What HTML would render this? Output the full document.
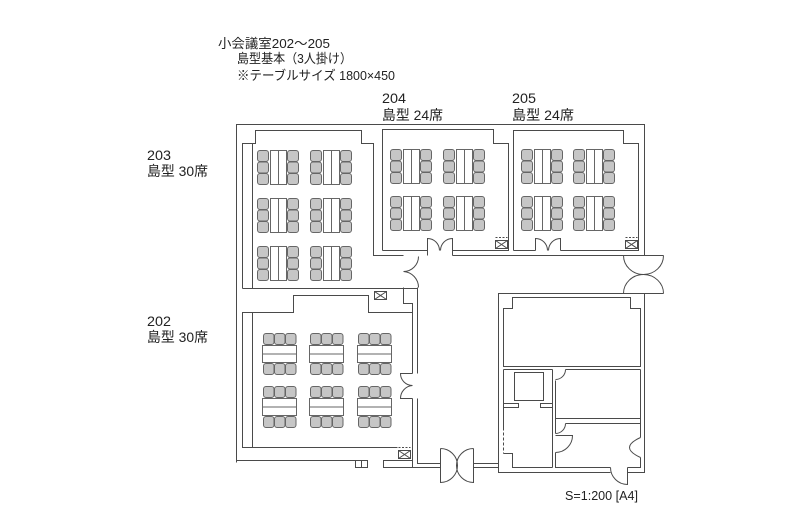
<!DOCTYPE html>
<html><head><meta charset="utf-8">
<style>
html,body{margin:0;padding:0;background:#fff;}
svg{display:block;}
text{font-family:"Liberation Sans","Noto Sans CJK JP",sans-serif;fill:#222;stroke:none;}
</style></head><body>
<svg width="800" height="532" viewBox="0 0 800 532" xmlns="http://www.w3.org/2000/svg" xml:space="preserve">
<defs>
<g id="v">
 <g fill="#c6c6c6">
 <rect x="0" y="0" width="11" height="11" rx="2.5"/>
 <rect x="0" y="11.5" width="11" height="11" rx="2.5"/>
 <rect x="0" y="23" width="11" height="11" rx="2.5"/>
 <rect x="30" y="0" width="11" height="11" rx="2.5"/>
 <rect x="30" y="11.5" width="11" height="11" rx="2.5"/>
 <rect x="30" y="23" width="11" height="11" rx="2.5"/>
 </g>
 <rect x="13" y="0" width="16" height="34" fill="#fff"/>
 <line x1="21" y1="0" x2="21" y2="34"/>
</g>
<g id="h">
 <g fill="#c6c6c6">
 <rect x="1" y="0" width="10.5" height="11" rx="2.5"/>
 <rect x="12" y="0" width="10.5" height="11" rx="2.5"/>
 <rect x="23" y="0" width="10.5" height="11" rx="2.5"/>
 <rect x="1" y="30" width="10.5" height="11" rx="2.5"/>
 <rect x="12" y="30" width="10.5" height="11" rx="2.5"/>
 <rect x="23" y="30" width="10.5" height="11" rx="2.5"/>
 </g>
 <rect x="0" y="12" width="34" height="17" fill="#fff"/>
 <line x1="0" y1="20.5" x2="34" y2="20.5"/>
</g>
<g id="x">
 <rect x="0" y="3" width="12" height="8"/>
 <path d="M0,3 L12,11 M12,3 L0,11"/>
 <path d="M0,0 H12" stroke-dasharray="2,1.5"/>
</g>
</defs>

<g transform="translate(0.5,0.5)" fill="none" stroke="#4a4a4a" stroke-width="1">
 <!-- outer / room 203 -->
 <path d="M236,462 V124 H644 V255"/>
 <path d="M242,288 V143 H255 V130 H361 V143 H373 V255 H403"/>
 <path d="M252,143 V288"/>
 <path d="M242,288 H417"/>
 <!-- corridor walls -->
 <path d="M403,287 V303 H412 V373"/>
 <path d="M417,287 V373"/>
 <path d="M412,398 V467"/>
 <path d="M417,398 V463 H440"/>
 <path d="M412,460 H383 V467 H440"/>
 <!-- corridor door -->
 <path d="M418,256 A15,15 0 0 1 403,271"/>
 <path d="M418,287 A16,16 0 0 0 403,271"/>
 <!-- room 202 -->
 <path d="M412,312 H368 V295 H293 V312 H242 V447 H397"/>
 <path d="M252,312 V447"/>
 <path d="M236,460 H355"/>
 <rect x="355" y="460" width="12" height="7"/>
 <path d="M361,460 V467"/>
 <path d="M412,373 H400 A12,12 0 0 0 412,385"/>
 <path d="M412,398 H400 A13,13 0 0 1 412,385"/>
 <!-- room 204 -->
 <path d="M382,250 V129 H493 V143 H508 V250 H452 V255"/>
 <path d="M427,255 V250 H382"/>
 <path d="M452,255 H623"/>
 <path d="M427,250 V238 A12,12 0 0 1 439,250"/>
 <path d="M452,250 V238 A12,12 0 0 0 440,250"/>
 <!-- room 205 -->
 <path d="M513,250 V130 H623 V143 H638 V250 H560"/>
 <path d="M535,250 H513"/>
 <path d="M535,250 V238 A12,12 0 0 1 547,250"/>
 <path d="M560,250 V238 A12,12 0 0 0 548,250"/>
 <!-- X boxes -->
 <use href="#x" x="374" y="288"/>
 <use href="#x" x="398" y="447"/>
 <use href="#x" x="495" y="237"/>
 <use href="#x" x="625" y="237"/>
 <!-- right double door -->
 <path d="M623,255 H663 M623,255 A20,19 0 0 0 663,255"/>
 <path d="M623,293 H663 M623,293 A20,19 0 0 1 663,293"/>
 <!-- bottom double door + corridor -->
 <path d="M440,448 V482 A17,17 0 0 0 440,448"/>
 <path d="M473,448 V482 A17,17 0 0 1 473,448"/>
 <path d="M473,463 H498 M473,467 H498"/>
 <!-- lower building -->
 <path d="M610,472 H498 V293 H644 V472 H627"/>
 <path d="M503,366 V308 H512 V297 H630 V308 H640 V366 Z"/>
 <path d="M503,369 H552 M565,369 H640"/>
 <path d="M503,369 V427"/>
 <path d="M503,427 V453" stroke-dasharray="3,2"/>
 <path d="M503,403 H518 V407 H503"/>
 <path d="M552,403 H540 V407 H552"/>
 <rect x="514" y="372" width="29" height="28"/>
 <path d="M503,453 H512 V467 H552"/>
 <path d="M552,369 V467"/>
 <path d="M555,380 V433 M555,452 V467 H610"/>
 <path d="M555,418 H640"/>
 <path d="M565,423 H640"/>
 <path d="M640,369 V437 M640,457 V467 H627"/>
 <path d="M565,369 A10,10 0 0 1 555,379"/>
 <path d="M565,423 A10,10 0 0 1 555,433"/>
 <path d="M555,435 H572 A17,17 0 0 1 555,452"/>
 <path d="M640,437 Q618,447 640,457"/>
 <path d="M610,467 A17,17 0 0 0 627,484 V467"/>

 <!-- tables 203 -->
 <g stroke="#666">
 <use href="#v" x="257" y="150"/><use href="#v" x="310" y="150"/>
 <use href="#v" x="257" y="198"/><use href="#v" x="310" y="198"/>
 <use href="#v" x="257" y="246"/><use href="#v" x="310" y="246"/>
 <!-- 204 -->
 <use href="#v" x="390" y="149"/><use href="#v" x="443" y="149"/>
 <use href="#v" x="390" y="196"/><use href="#v" x="443" y="196"/>
 <!-- 205 -->
 <use href="#v" x="521" y="149"/><use href="#v" x="573" y="149"/>
 <use href="#v" x="521" y="196"/><use href="#v" x="573" y="196"/>
 <!-- 202 -->
 <use href="#h" x="262" y="333"/><use href="#h" x="309" y="333"/><use href="#h" x="357" y="333"/>
 <use href="#h" x="262" y="386"/><use href="#h" x="309" y="386"/><use href="#h" x="357" y="386"/>
 </g>
</g>

<text x="218" y="48" font-size="13" textLength="112" lengthAdjust="spacingAndGlyphs">小会議室202〜205</text>
<text x="237" y="63" font-size="13" textLength="115" lengthAdjust="spacingAndGlyphs">島型基本（3人掛け）</text>
<text x="237" y="80" font-size="13" textLength="158" lengthAdjust="spacingAndGlyphs">※テーブルサイズ  1800×450</text>
<text x="382" y="103" font-size="14" textLength="24" lengthAdjust="spacingAndGlyphs">204</text>
<text x="382" y="120" font-size="14" textLength="61" lengthAdjust="spacingAndGlyphs">島型  24席</text>
<text x="512" y="103" font-size="14" textLength="24" lengthAdjust="spacingAndGlyphs">205</text>
<text x="512" y="120" font-size="14" textLength="62" lengthAdjust="spacingAndGlyphs">島型  24席</text>
<text x="147" y="160" font-size="14" textLength="24" lengthAdjust="spacingAndGlyphs">203</text>
<text x="147" y="176" font-size="14" textLength="61" lengthAdjust="spacingAndGlyphs">島型  30席</text>
<text x="147" y="326" font-size="14" textLength="24" lengthAdjust="spacingAndGlyphs">202</text>
<text x="147" y="342" font-size="14" textLength="61" lengthAdjust="spacingAndGlyphs">島型  30席</text>
<text x="565" y="500" font-size="12.5" textLength="73" lengthAdjust="spacingAndGlyphs">S=1:200 [A4]</text>
</svg>
</body></html>
